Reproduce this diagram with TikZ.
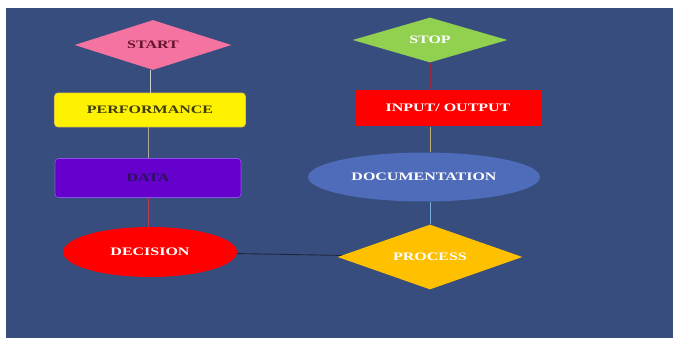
\documentclass[tikz,border=0pt]{standalone}
\usepackage{fontspec}
\setmainfont{Liberation Serif}
\newfontfamily\boxfont[FakeStretch=1.4]{Liberation Serif}
\usetikzlibrary{shapes.geometric}

\definecolor{bgblue}{RGB}{55,77,126}
\definecolor{startpink}{RGB}{245,115,160}
\definecolor{stopgreen}{RGB}{146,208,80}
\definecolor{dataviolet}{RGB}{102,0,204}
\definecolor{docblue}{RGB}{78,108,186}
\definecolor{procorange}{RGB}{255,192,0}

\tikzset{
  lbl/.style={font=\boxfont\bfseries\fontsize{6.5}{7}\selectfont, inner sep=0pt},
  dia/.style={lbl, diamond},
  boxr/.style={lbl, rectangle, rounded corners=2pt},
  ell/.style={lbl, ellipse},
  link/.style={line width=0.5pt}
}

\begin{document}
\begin{tikzpicture}[x=0.02cm, y=-0.02cm]
\useasboundingbox (0,0) rectangle (673,344);
\fill[bgblue] (6,8) rectangle (673,338);
%背景(bgblue)

\node[dia, shape aspect=3.14, fill=startpink, text={rgb,255:red,100;green,20;blue,45}, minimum width=3.14cm, minimum height=1cm] (start) at (153,45) {START};
\node[boxr, fill=yellow, draw={rgb,255:red,230;green,200;blue,60}, text={rgb,255:red,60;green,60;blue,10}, minimum width=3.82cm, minimum height=0.68cm] (perf) at (150,110) {PERFORMANCE};
\node[boxr, fill=dataviolet, draw={rgb,255:red,140;green,80;blue,230}, text={rgb,255:red,40;green,20;blue,90}, minimum width=3.72cm, minimum height=0.78cm] (data) at (148,178) {DATA};
\node[ell, fill=red, text=white, minimum width=3.48cm, minimum height=1cm] (decision) at (150,252) {DECISION};
%左列: START, PERFORMANCE, DATA, DECISION

\node[dia, shape aspect=3.44, fill=stopgreen, text=white, minimum width=3.1cm, minimum height=0.9cm] (stop) at (430,40) {STOP};
\node[rectangle, lbl, fill=red, text=white, minimum width=3.74cm, minimum height=0.74cm] (io) at (448,108) {INPUT/ OUTPUT};
\node[ell, fill=docblue, text=white, minimum width=4.64cm, minimum height=0.98cm] (doc) at (424,177) {DOCUMENTATION};
\node[dia, shape aspect=2.85, fill=procorange, text=white, minimum width=3.7cm, minimum height=1.3cm] (process) at (430,257) {PROCESS};
%右列: STOP, INPUT/OUTPUT, DOCUMENTATION, PROCESS

\draw[link, color={rgb,255:red,205;green,205;blue,205}] (start.south -| perf) -- (perf);
\draw[link, color={rgb,255:red,175;green,170;blue,160}] (perf.south -| data) -- (data);
\draw[link, color={rgb,255:red,180;green,60;blue,85}] (data) -- (data |- decision.north);
\draw[link, color={rgb,255:red,30;green,38;blue,60}] (decision) -- (process);
\draw[link, color={rgb,255:red,150;green,40;blue,70}] (stop) -- (stop |- io.north);
\draw[link, color={rgb,255:red,190;green,170;blue,110}] (io.south -| process) -- (doc.north -| process);
\draw[link, color={rgb,255:red,120;green,170;blue,220}] (doc.south -| process) -- (process);
%连线
\end{tikzpicture}
\end{document}
